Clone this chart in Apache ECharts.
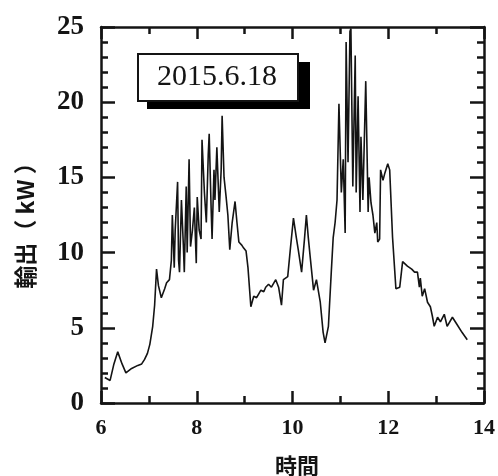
<!DOCTYPE html>
<html>
<head>
<meta charset="utf-8">
<script src="https://cdn.jsdelivr.net/npm/echarts@6/dist/echarts.min.js"></script>
<style>
  html, body { margin: 0; padding: 0; background: #fff; }
  #chart { width: 498px; height: 476px; }
</style>
</head>
<body>
<div id="chart"></div>
<script>
// 時刻 (時) と 出力 (kW)
var hours = [
  6.08, 6.19, 6.27, 6.35, 6.44, 6.52, 6.64, 6.77, 6.85, 6.91, 6.97, 7.02, 7.08, 7.12, 7.16, 7.20,
  7.26, 7.33, 7.37, 7.43, 7.47, 7.49, 7.53, 7.55, 7.60, 7.62, 7.64, 7.68, 7.72, 7.74, 7.78, 7.80,
  7.84, 7.87, 7.91, 7.95, 7.99, 8.01, 8.05, 8.09, 8.11, 8.16, 8.20, 8.24, 8.26, 8.30, 8.32, 8.36,
  8.38, 8.42, 8.47, 8.51, 8.53, 8.57, 8.61, 8.65, 8.69, 8.74, 8.80, 8.84, 8.88, 8.94, 8.98, 9.03,
  9.07, 9.13, 9.19, 9.25, 9.34, 9.40, 9.44, 9.50, 9.56, 9.65, 9.71, 9.77, 9.81, 9.90, 9.96, 10.02,
  10.08, 10.12, 10.19, 10.25, 10.29, 10.33, 10.37, 10.44, 10.50, 10.58, 10.64, 10.68, 10.75, 10.81, 10.85, 10.89,
  10.93, 10.97, 11.02, 11.06, 11.10, 11.12, 11.16, 11.20, 11.22, 11.26, 11.31, 11.33, 11.37, 11.41, 11.43, 11.47,
  11.53, 11.58, 11.60, 11.64, 11.68, 11.72, 11.76, 11.78, 11.82, 11.84, 11.89, 11.93, 11.99, 12.03, 12.09, 12.16,
  12.24, 12.30, 12.40, 12.49, 12.55, 12.61, 12.65, 12.67, 12.71, 12.76, 12.78, 12.82, 12.88, 12.92, 12.96, 13.03,
  13.09, 13.17, 13.23, 13.34, 13.44, 13.54, 13.65
];
var outputKw = [
  1.7, 1.5, 2.6, 3.4, 2.6, 2.0, 2.3, 2.5, 2.6, 2.9, 3.3, 3.9, 5.1, 6.5, 8.9, 7.8,
  7.0, 7.6, 8.0, 8.2, 9.5, 12.5, 9.0, 11.5, 14.7, 9.5, 8.7, 13.5, 10.5, 8.7, 14.4, 10.0,
  16.2, 10.4, 11.5, 13.0, 9.3, 13.7, 11.5, 10.9, 17.5, 14.0, 12.0, 16.5, 17.9, 13.0, 10.9, 15.5,
  13.5, 17.0, 12.7, 15.5, 19.1, 15.0, 13.8, 12.5, 10.2, 12.0, 13.4, 12.0, 10.7, 10.5, 10.3, 10.1,
  9.0, 6.4, 7.1, 7.0, 7.5, 7.4, 7.7, 7.9, 7.7, 8.2, 7.7, 6.5, 8.2, 8.4, 10.4, 12.3,
  11.0, 10.2, 8.7, 10.9, 12.5, 11.0, 9.7, 7.5, 8.2, 6.7, 4.7, 4.0, 5.1, 8.7, 11.0, 12.0,
  13.5, 19.9, 14.0, 16.2, 11.3, 24.0, 16.0, 24.7, 24.9, 14.4, 23.1, 14.0, 20.4, 12.7, 17.7, 13.5,
  21.4, 12.7, 15.0, 13.3, 12.5, 11.3, 12.0, 10.7, 10.9, 15.5, 14.8, 15.3, 15.9, 15.5, 11.0, 7.6,
  7.7, 9.4, 9.1, 8.9, 8.7, 8.7, 7.7, 8.3, 7.1, 7.6, 7.3, 6.7, 6.4, 5.8, 5.1, 5.7,
  5.4, 5.9, 5.1, 5.7, 5.2, 4.7, 4.2
];
var xTicks = [6, 8, 10, 12, 14];
var yTicks = [0, 5, 10, 15, 20, 25];
var dateLabel = '2015.6.18';

var seriesData = hours.map(function (h, i) { return [h, outputKw[i]]; });

var myChart = echarts.init(document.getElementById('chart'));

var numFont = 'Liberation Serif';
var jpFont = 'Noto Sans CJK JP';
var ink = '#141414';

function xAxisBase(pos, showLabel) {
  return {
    type: 'value',
    position: pos,
    min: xTicks[0],
    max: xTicks[xTicks.length - 1],
    interval: 2,
    axisLine: { show: true, onZero: false, lineStyle: { color: ink, width: 2.5 } },
    axisTick: { show: true, inside: true, length: 12, lineStyle: { color: ink, width: 2.5 } },
    minorTick: { show: true, splitNumber: 2, length: 7, lineStyle: { color: ink, width: 2.5 } },
    splitLine: { show: false },
    minorSplitLine: { show: false },
    axisLabel: {
      show: showLabel,
      margin: 14,
      fontFamily: numFont,
      fontWeight: 'bold',
      fontSize: 22,
      color: ink
    }
  };
}

function yAxisBase(pos, showLabel) {
  return {
    type: 'value',
    position: pos,
    min: yTicks[0],
    max: yTicks[yTicks.length - 1],
    interval: 5,
    axisLine: { show: true, onZero: false, lineStyle: { color: ink, width: 2.5 } },
    axisTick: { show: true, inside: true, length: 14, lineStyle: { color: ink, width: 2.5 } },
    minorTick: { show: true, splitNumber: 5, length: 7, lineStyle: { color: ink, width: 2.5 } },
    splitLine: { show: false },
    minorSplitLine: { show: false },
    axisLabel: {
      show: showLabel,
      margin: 17,
      fontFamily: numFont,
      fontWeight: 'bold',
      fontSize: 27,
      color: ink
    }
  };
}

var option = {
  animation: false,
  backgroundColor: '#fff',
  grid: { left: 101, top: 27, right: 11, bottom: 73 },
  xAxis: [xAxisBase('bottom', true), xAxisBase('top', false)],
  yAxis: [yAxisBase('left', true), yAxisBase('right', false)],
  series: [
    {
      type: 'line',
      data: seriesData,
      showSymbol: false,
      symbol: 'none',
      lineStyle: { color: ink, width: 1.6 },
      z: 3
    }
  ],
  graphic: [
    // 日付ラベルの影
    { type: 'rect', left: 147, top: 62, shape: { width: 163, height: 47 }, style: { fill: '#000' }, z: 10 },
    // 日付ラベル
    { type: 'rect', left: 137, top: 53, shape: { width: 160, height: 47 },
      style: { fill: '#fff', stroke: ink, lineWidth: 2 }, z: 11 },
    { type: 'text', x: 217, y: 77, z: 12,
      style: { text: dateLabel, fontFamily: numFont, fontSize: 30, fill: ink,
               align: 'center', verticalAlign: 'middle' } },
    // 軸タイトル
    { type: 'text', x: 25, y: 220, rotation: Math.PI / 2, z: 12,
      style: { text: '輸出（ kW ）', fontFamily: jpFont, fontWeight: 'bold', fontSize: 23, fill: ink,
               align: 'center', verticalAlign: 'middle' } },
    { type: 'text', x: 297, y: 466, z: 12,
      style: { text: '時間', fontFamily: jpFont, fontWeight: 'bold', fontSize: 22, fill: ink,
               align: 'center', verticalAlign: 'middle' } }
  ]
};

myChart.setOption(option);
</script>
</body>
</html>
